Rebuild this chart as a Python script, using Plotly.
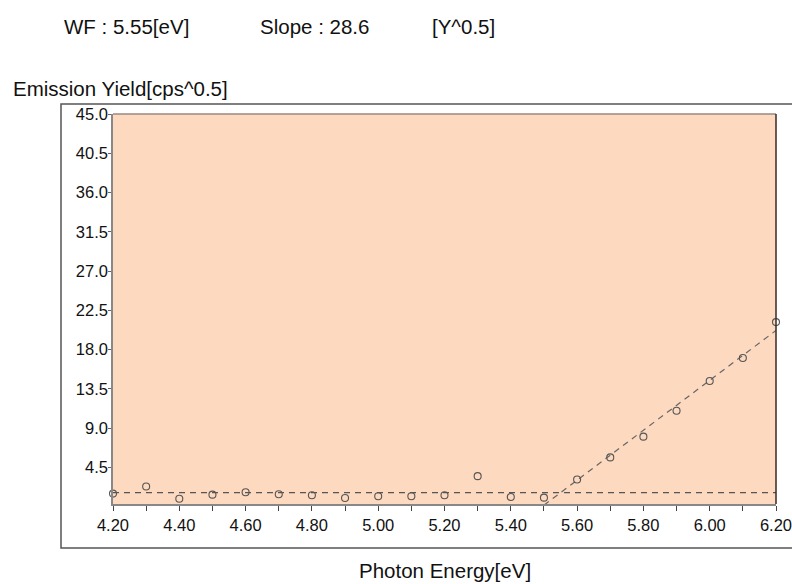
import plotly.graph_objects as go

photon_energy = [4.2, 4.3, 4.4, 4.5, 4.6, 4.7, 4.8, 4.9, 5.0, 5.1, 5.2,
                 5.3, 5.4, 5.5, 5.6, 5.7, 5.8, 5.9, 6.0, 6.1, 6.2]
yield_sqrt = [1.49, 2.30, 0.91, 1.37, 1.65, 1.42, 1.30, 0.99, 1.19, 1.19, 1.30,
              3.49, 1.11, 1.03, 3.10, 5.64, 8.02, 10.98, 14.39, 17.04, 21.15]

work_function = 5.55
slope = 28.6
baseline_level = 1.6
baseline_x = [4.2, 6.2]
baseline_y = [baseline_level, baseline_level]
fit_x = [5.5, 6.2]
fit_y = [baseline_level + slope * (x - work_function) for x in fit_x]

y_ticks = [4.5, 9.0, 13.5, 18.0, 22.5, 27.0, 31.5, 36.0, 40.5, 45.0]
x_ticks = [4.2, 4.4, 4.6, 4.8, 5.0, 5.2, 5.4, 5.6, 5.8, 6.0, 6.2]
x_minor = [4.3, 4.5, 4.7, 4.9, 5.1, 5.3, 5.5, 5.7, 5.9, 6.1]

FONT = "Liberation Sans, Arial, sans-serif"

L, R, T, B = 113, 16, 114, 80
W, H = 792, 584
pw = W - L - R
ph = H - T - B


def px(xp):
    return (xp - L) / pw


def py(yp):
    return 1 - (yp - T) / ph


fig = go.Figure()
fig.add_trace(go.Scatter(x=baseline_x, y=baseline_y, mode="lines",
                         line=dict(color="#555555", width=1.2, dash="6px,5px"),
                         hoverinfo="skip", showlegend=False))
fig.add_trace(go.Scatter(x=fit_x, y=fit_y, mode="lines",
                         line=dict(color="#666666", width=1.2, dash="6px,5px"),
                         hoverinfo="skip", showlegend=False))
fig.add_trace(go.Scatter(x=photon_energy, y=yield_sqrt, mode="markers",
                         marker=dict(symbol="circle-open", size=7,
                                     color="#555555", line=dict(width=1.1)),
                         showlegend=False, cliponaxis=False))

fig.update_layout(
    width=W, height=H,
    margin=dict(l=L, r=R, t=T, b=B, autoexpand=False),
    paper_bgcolor="white",
    plot_bgcolor="#FDD9BF",
    font=dict(family=FONT, size=16.5, color="#111111"),
    showlegend=False,
    xaxis=dict(range=[4.2, 6.2], tickvals=x_ticks,
               ticktext=[f"{v:.2f}" for v in x_ticks],
               showgrid=False, zeroline=False, automargin=False,
               showline=True, linecolor="#888888", linewidth=1.5,
               ticks="outside", ticklen=5, tickcolor="#444444", tickwidth=1,
               ticklabeloverflow="allow",
               minor=dict(tickvals=x_minor, ticks="outside", ticklen=5,
                          tickcolor="#444444", showgrid=False),
               tickfont=dict(size=16.5, family=FONT)),
    yaxis=dict(range=[0.3, 45.0], tickvals=y_ticks,
               ticktext=[f"{v:.1f}" for v in y_ticks],
               showgrid=False, zeroline=False, automargin=False,
               showline=True, linecolor="#888888", linewidth=1.5,
               ticks="outside", ticklen=3, tickcolor="#666666", tickwidth=1,
               ticklabelstandoff=-3, ticklabeloverflow="allow",
               tickfont=dict(size=16.5, family=FONT)),
    shapes=[
        dict(type="rect", xref="paper", yref="paper", x0=px(61), x1=px(805),
             y0=py(548), y1=py(104), line=dict(color="#555555", width=1.5),
             layer="below"),
        dict(type="line", xref="paper", yref="paper", x0=0, x1=1, y0=1, y1=1,
             line=dict(color="#9a8880", width=1.5)),
        dict(type="line", xref="paper", yref="paper", x0=1, x1=1, y0=0, y1=1,
             line=dict(color="#3a2a24", width=1.5)),
    ],
)

texts = [
    ("WF : 5.55[eV]", 62, 27, "left", 20.5),
    ("Slope : 28.6", 258, 27, "left", 20.5),
    ("[Y^0.5]", 430, 27, "left", 20.5),
    ("Emission Yield[cps^0.5]", 11, 88, "left", 20.5),
    ("Photon Energy[eV]", 445, 570, "center", 20.5),
]
for t, xp, yp, anc, sz in texts:
    fig.add_annotation(text=t, x=px(xp), y=py(yp), xref="paper", yref="paper",
                       xanchor=anc, yanchor="middle", showarrow=False,
                       font=dict(size=sz, family=FONT, color="#111111"))

fig.write_html("out.html", config={"displayModeBar": False},
               post_script="document.body.style.margin='0';"
                           "document.body.style.overflow='hidden';")
